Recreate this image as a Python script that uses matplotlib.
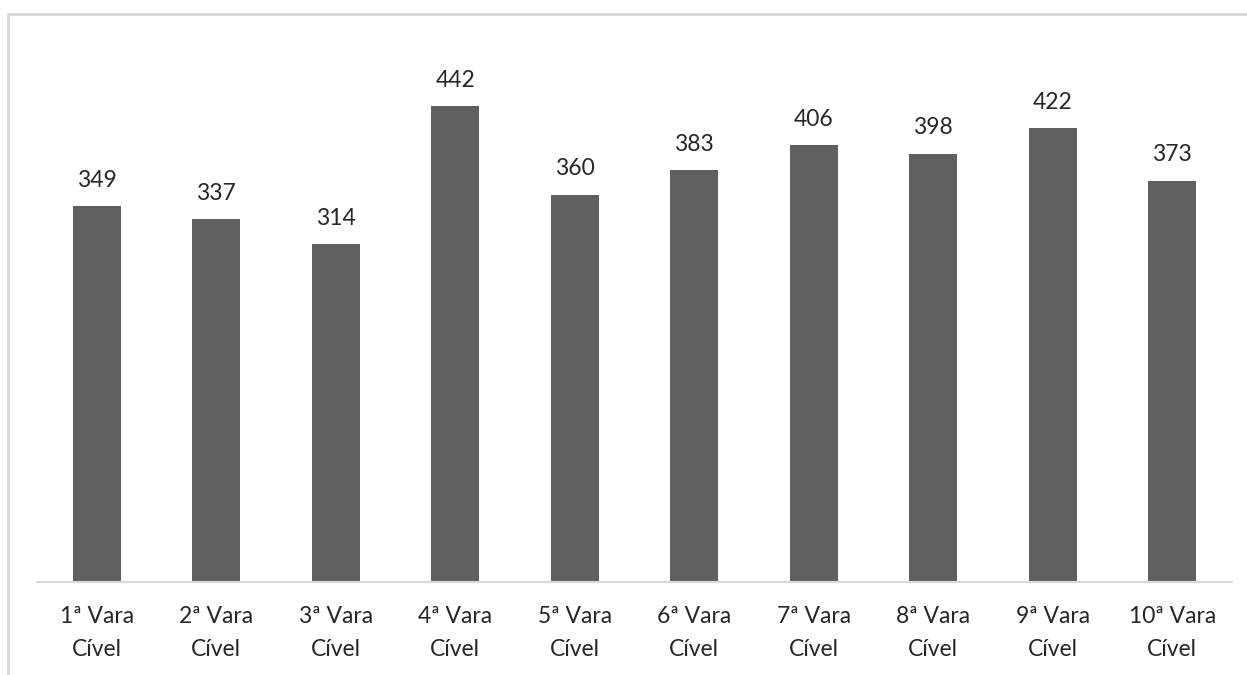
import matplotlib.pyplot as plt
from matplotlib.patches import Rectangle

# processos por vara
varas = ['1ª Vara\nCível', '2ª Vara\nCível', '3ª Vara\nCível', '4ª Vara\nCível',
         '5ª Vara\nCível', '6ª Vara\nCível', '7ª Vara\nCível', '8ª Vara\nCível',
         '9ª Vara\nCível', '10ª Vara\nCível']
processos = [349, 337, 314, 442, 360, 383, 406, 398, 422, 373]

W, H = 1247, 675
plt.rcParams['font.family'] = ['Lato', 'DejaVu Sans']

fig = plt.figure(figsize=(W / 100, H / 100), dpi=100)
fig.patch.set_facecolor('white')

# light frame around the chart area
fig.patches.append(Rectangle((8 / W, -0.1), 1.2, (675 - 14) / H + 0.1,
                             transform=fig.transFigure, fill=False,
                             edgecolor='#d9d9d9', linewidth=2))

ax = fig.add_axes([37 / W, (H - 582) / H, (1232 - 37) / W, (582 - 44) / H])
x = range(len(varas))
bars = ax.bar(x, processos, width=0.4, color='#5f5f5f', zorder=2)

for rect, v in zip(bars, processos):
    ax.annotate(str(v), (rect.get_x() + rect.get_width() / 2, v),
                xytext=(0, 11), textcoords='offset points',
                ha='center', va='bottom', fontsize=16.5, color='#262626')

ax.set_xlim(-0.5, len(varas) - 0.5)
ax.set_ylim(0, 500)
ax.set_xticks(list(x))
ax.set_xticklabels(varas, fontsize=16.5, color='#262626', linespacing=1.75)
ax.tick_params(axis='x', length=0, pad=17)
ax.set_yticks([])
for s in ['top', 'right', 'left']:
    ax.spines[s].set_visible(False)
ax.spines['bottom'].set_color('#d9d9d9')
ax.spines['bottom'].set_linewidth(1.5)

fig.savefig('out.png', dpi=100)
